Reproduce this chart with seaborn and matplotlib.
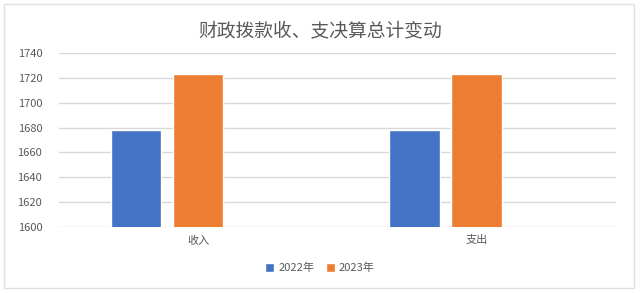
import pandas as pd
import matplotlib.pyplot as plt
import seaborn as sns
from matplotlib.patches import Rectangle

# data
categories = ['收入', '支出']
series_names = ['2022年', '2023年']
values_2022 = [1678, 1678]
values_2023 = [1723, 1723]
y_ticks = [1600, 1620, 1640, 1660, 1680, 1700, 1720, 1740]

colors = ['#4472C4', '#ED7D31']
text_color = '#595959'
grid_color = '#D9D9D9'

df = pd.DataFrame({
    'category': categories * 2,
    'series': [series_names[0]] * 2 + [series_names[1]] * 2,
    'value': values_2022 + values_2023,
})

sns.set_theme(style='white')
plt.rcParams['font.family'] = ['Noto Sans CJK SC', 'DejaVu Sans']

fig = plt.figure(figsize=(6.4, 2.93), dpi=100)
ax = fig.add_axes([0.092, 0.225, 0.870, 0.594])

# the Excel chart keeps an empty third slot in each group, so bars sit left of the label
sns.barplot(data=df, x='category', y='value', hue='series',
            hue_order=series_names + ['_empty'], order=categories,
            palette=colors + ['#FFFFFF'], width=0.668, gap=0.19,
            saturation=1, legend=False, ax=ax, zorder=3)

ax.set_ylim(y_ticks[0], y_ticks[-1])
ax.set_yticks(y_ticks)
ax.set_xlim(-0.5, len(categories) - 0.5)
ax.yaxis.grid(True, color=grid_color, linewidth=1.0, zorder=0)
ax.set_axisbelow(True)
for s in ax.spines.values():
    s.set_visible(False)
ax.set_xlabel('')
ax.set_ylabel('')
ax.tick_params(axis='y', length=0, pad=12, labelsize=8, labelcolor=text_color)
ax.tick_params(axis='x', length=0, pad=6, labelsize=8, labelcolor=text_color)

fig.text(0.5, 0.895, '财政拨款收、支决算总计变动', ha='center', va='center',
         fontsize=13.5, color=text_color)

handles = [Rectangle((0, 0), 1, 1, facecolor=c) for c in colors]
fig.legend(handles, series_names, loc='center', bbox_to_anchor=(0.5, 0.085),
           ncol=2, frameon=False, fontsize=8, labelcolor=text_color,
           handlelength=0.8, handleheight=0.8, handletextpad=0.4, columnspacing=1.0)

# light border around the whole chart area
fig.patches.append(Rectangle((0.007, 0.017), 0.984, 0.968, transform=fig.transFigure,
                             fill=False, edgecolor='#E0E0E0', linewidth=1.0))

fig.savefig('out.png', dpi=100)
